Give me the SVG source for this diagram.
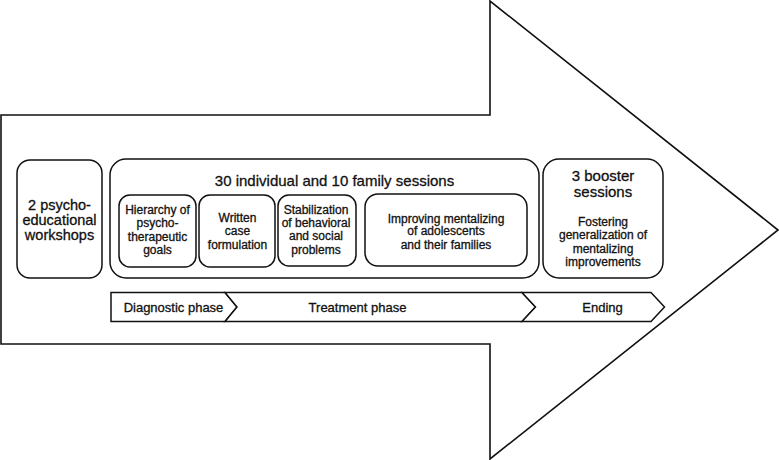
<svg xmlns="http://www.w3.org/2000/svg" width="779" height="460" viewBox="0 0 779 460">
<style>
.shape{fill:#fff;stroke:#111;stroke-width:1.6}
.box{fill:#fff;stroke:#111;stroke-width:1.5}
.t{font-family:"Liberation Sans",Arial,sans-serif;fill:#111;stroke:#111;stroke-width:0.3;text-anchor:middle}
.l{font-size:14.5px}
.m{font-size:15px}
.s{font-size:12px}
.p{font-size:13px}
</style>
<rect width="779" height="460" fill="#fff"/>
<g id="big-arrow">
<polygon class="shape" points="1,115 490,115 490,1 778,230 490,459 490,344 1,344"/>
</g>
<g id="workshops">
<rect class="box" x="17" y="160" width="85" height="118" rx="13"/>
<text class="t l" x="59.5" y="209.5">2 psycho-</text>
<text class="t l" x="59.5" y="224.5">educational</text>
<text class="t l" x="59.5" y="240">workshops</text>
</g>
<g id="sessions">
<rect class="box" x="110" y="159" width="429" height="119" rx="16"/>
<text class="t m" x="334.5" y="185.5">30 individual and 10 family sessions</text>
</g>
<g id="hierarchy">
<rect class="box" x="119" y="195" width="77" height="72" rx="11"/>
<text class="t s" x="157.5" y="213.5">Hierarchy of</text>
<text class="t s" x="157.5" y="227">psycho-</text>
<text class="t s" x="157.5" y="240.5">therapeutic</text>
<text class="t s" x="157.5" y="254">goals</text>
</g>
<g id="written">
<rect class="box" x="199" y="195" width="76" height="72" rx="11"/>
<text class="t s" x="237.5" y="221.5">Written</text>
<text class="t s" x="237.5" y="235">case</text>
<text class="t s" x="237.5" y="248.5">formulation</text>
</g>
<g id="stabilization">
<rect class="box" x="278" y="195" width="78" height="71" rx="11"/>
<text class="t s" x="316" y="214">Stabilization</text>
<text class="t s" x="316" y="227">of behavioral</text>
<text class="t s" x="316" y="240">and social</text>
<text class="t s" x="316" y="253.5">problems</text>
</g>
<g id="improving">
<rect class="box" x="365" y="194" width="162" height="72" rx="13"/>
<text class="t s" x="446" y="222.5">Improving mentalizing</text>
<text class="t s" x="446" y="235">of adolescents</text>
<text class="t s" x="446" y="248.5">and their families</text>
</g>
<g id="booster">
<rect class="box" x="543" y="159" width="120" height="119" rx="16"/>
<text class="t m" x="603" y="180.5">3 booster</text>
<text class="t m" x="603" y="197">sessions</text>
<text class="t s" x="603" y="226">Fostering</text>
<text class="t s" x="603" y="238.5">generalization of</text>
<text class="t s" x="603" y="252.5">mentalizing</text>
<text class="t s" x="603" y="265.5">improvements</text>
</g>
<g id="phases">
<polygon class="box" points="111,292.5 225,292.5 237,307 225,321.5 111,321.5"/>
<polygon class="box" points="225,292.5 522,292.5 535.5,307 522,321.5 225,321.5 237,307"/>
<polygon class="box" points="522,292.5 651,292.5 664.5,307 651,321.5 522,321.5 535.5,307"/>
<text class="t p" x="173.5" y="311.5">Diagnostic phase</text>
<text class="t p" x="357.5" y="311.5">Treatment phase</text>
<text class="t p" x="602.5" y="311.5">Ending</text>
</g>
<g id="connectors"/>
</svg>
